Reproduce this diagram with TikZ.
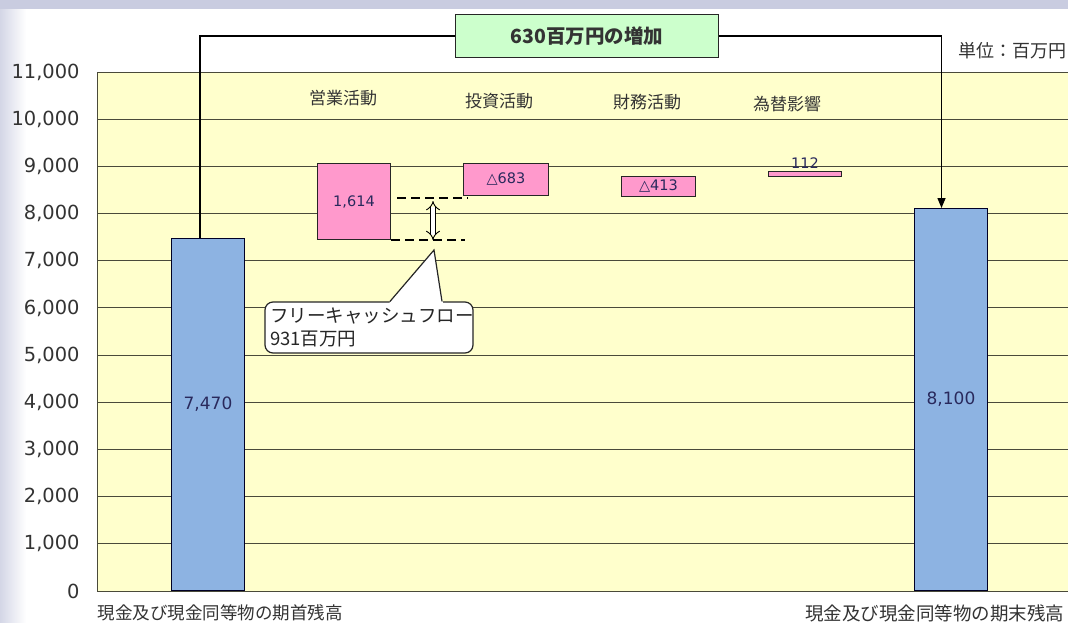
\documentclass[tikz,border=0pt]{standalone}
\usepackage{fontspec}
\setmainfont{Noto Sans CJK JP}
\newfontfamily\numfont{DejaVu Sans}
\usepackage{tikz}
\usetikzlibrary{arrows.meta,positioning}

\definecolor{bgcol}{HTML}{C9CCE0}
\definecolor{plotcol}{HTML}{FFFFCC}
\definecolor{gridcol}{HTML}{4A4A3A}
\definecolor{barblue}{HTML}{8DB3E2}
\definecolor{barpink}{HTML}{FF99CC}
\definecolor{boxgreen}{HTML}{CCFFCC}
\definecolor{txtcol}{HTML}{333333}

\tikzset{
  bluebar/.style={draw=black!85!blue, fill=barblue, line width=1pt, minimum width=73pt, anchor=south west, inner sep=0pt},
  pinkbox/.style={draw=black!85, fill=barpink, line width=1pt, anchor=north west, inner sep=0pt, text=txtcol!80!blue, font=\numfont\fontsize{14.5}{16}\selectfont},
  ticklab/.style={anchor=east, text=txtcol, font=\numfont\fontsize{19.4}{22}\selectfont},
  catlab/.style={text=txtcol, font=\fontsize{17}{20}\selectfont},
  vallab/.style={text=txtcol!80!blue, font=\numfont\fontsize{17}{18}\selectfont},
  conn/.style={line width=1.4pt},
  fcfdash/.style={line width=2.6pt, dash pattern=on 9pt off 5pt},
}

\begin{document}
\begin{tikzpicture}[x=1pt, y=-1pt]
  \useasboundingbox (0,0) rectangle (1068,622);
  % background
  \fill[bgcol] (0,0) rectangle (1068,622);
  \fill[white] (12,9) rectangle (1068,622);
  \shade[left color=bgcol!80, right color=white] (0,9) rectangle (26,622);

  % plot area and grid
  \fill[plotcol] (97,72) rectangle (1068,591);
  \foreach \v in {0,1,...,11} {
    \draw[gridcol, line width=0.9pt] (97,{591-47.18*\v}) -- (1068,{591-47.18*\v});
    \node[ticklab] at (83,{591-47.18*\v}) {\ifnum\v=0 0\else\v,000\fi};
  }
  \draw[gridcol, line width=0.9pt] (97,72) -- (97,591);

  % balance bars
  \node[bluebar, minimum height=352pt] (open) at (171,591) {};   % opening balance
  \node[bluebar, minimum height=382pt] (close) at (914,591) {};  % closing balance
  \node[vallab] (openval) at ([yshift=-166pt]open.north) {7,470};
  \node[vallab] (closeval) at ([yshift=-191pt]close.north) {8,100};

  % changes
  \node[pinkbox, minimum width=73pt, minimum height=76pt] (op) at (317,163) {1,614};
  \node[pinkbox, minimum width=85pt, minimum height=32pt] (inv) at (463,163) {△683};
  \node[pinkbox, minimum width=74pt, minimum height=20pt] (fin) at (621,176) {△413};
  \node[pinkbox, minimum width=73pt, minimum height=5pt] (fx) at (768,171) {};
  \node[pinkbox, draw=none, fill=none, anchor=south] (fxval) at ([yshift=2pt]fx.north) {112};

  % categories
  \node[catlab] (opcat) at (343,98) {営業活動};
  \node[catlab] (invcat) at (499,101) {投資活動};
  \node[catlab] (fincat) at (647,102) {財務活動};
  \node[catlab] (fxcat) at (787,104) {為替影響};

  % increase
  \node[draw=black!85, fill=boxgreen, line width=1.4pt, minimum width=263pt, minimum height=43pt,
        font=\fontsize{19.5}{22}\selectfont\bfseries, text=txtcol] (inc) at (587,36) {630百万円の増加};
  \draw[conn] ([xshift=-8pt]open.north) |- (inc.west);
  \draw[conn, -{Triangle[length=10pt,width=8pt]}] (inc.east) -| ([xshift=-9.5pt]close.north);
  \node[catlab, anchor=east, font=\fontsize{18}{20}\selectfont] (unit) at (1070,51) {単位：百万円};

  % free cash flow
  \coordinate (fcftop) at (397,198);
  \draw[fcfdash] (fcftop) -- ++(71,0);
  \draw[fcfdash] (op.south east) -- ++(74,0);
  \coordinate (fcfa) at (433,201);
  \coordinate (fcfb) at (433,240);
  \draw[double=white, double distance=4pt, line width=0.9pt, {Implies}-{Implies}] (fcfa) -- (fcfb);
  \node[draw=black!85, fill=white, rounded corners=8pt, line width=1.2pt, minimum width=208pt, minimum height=51pt,
        text width=198pt, align=left, inner sep=4pt, text=black!85,
        font=\fontsize{18.5}{23}\selectfont] (fcf) at (369,327.5) {フリーキャッシュフロー\\931百万円};
  \coordinate (tip) at (434,250);
  \fill[white] ([xshift=20pt,yshift=-2pt]fcf.north) -- (tip) -- ([xshift=74pt,yshift=-2pt]fcf.north) -- cycle;
  \draw[line width=1.2pt, black!85] ([xshift=21pt]fcf.north) -- (tip) -- ([xshift=73pt]fcf.north);

  % bottom captions
  \node[catlab, anchor=west, font=\fontsize{17.5}{20}\selectfont] (openlab) at (94,613) {現金及び現金同等物の期首残高};
  \node[catlab, anchor=east, font=\fontsize{18.5}{20}\selectfont] (closelab) at (1068,613) {現金及び現金同等物の期末残高};
\end{tikzpicture}
\end{document}
